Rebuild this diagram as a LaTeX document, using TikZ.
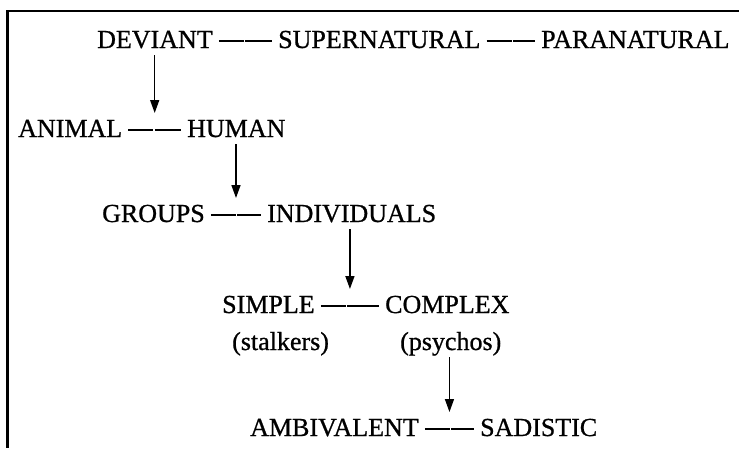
\documentclass[tikz,border=0pt]{standalone}
\usepackage{fontspec}
\setmainfont[FakeBold=0.8]{Liberation Serif}
\usetikzlibrary{arrows.meta}
\tikzset{
  word/.style={anchor=base west, inner sep=0pt, font=\fontsize{26}{30}\selectfont},
  link/.style={line width=1.6pt, shorten <=6pt, shorten >=6pt, dash pattern=on 25pt off 1.5pt on 80pt off 0pt},
  arr/.style={line width=1.5pt, -{Triangle[length=13pt,width=9pt]}, shorten <=7pt, shorten >=17pt},
  frame/.style={line width=2.6pt}
}
\begin{document}
\begin{tikzpicture}[x=1pt,y=-1pt]
  \useasboundingbox (0,0) rectangle (739,448);
  \draw[frame] (739,11) -- (7.5,11) -- (7.5,448);
  % first row
  \node[word] (deviant) at (97,48) {DEVIANT};
  \node[word] (super) at (278,48) {SUPERNATURAL};
  \node[word] (para) at (541,48) {PARANATURAL};
  \draw[link] ([yshift=7pt]deviant.base east) -- ([yshift=7pt]super.base west);
  \draw[link] ([yshift=7pt]super.base east) -- ([yshift=7pt]para.base west);
  % animal / human
  \node[word] (animal) at (18,137) {ANIMAL};
  \node[word] (human) at (187,137) {HUMAN};
  \draw[link] ([yshift=7pt]animal.base east) -- coordinate[midway] (ah) ([yshift=7pt]human.base west);
  % groups / individuals
  \node[word] (groups) at (102,222) {GROUPS};
  \node[word] (indiv) at (267,222) {INDIVIDUALS};
  \draw[link] ([yshift=7pt]groups.base east) -- coordinate[midway] (gi) ([yshift=7pt]indiv.base west);
  % simple / complex
  \node[word] (simple) at (222,313) {SIMPLE};
  \node[word] (complex) at (385,313) {COMPLEX};
  \node[word] (stalkers) at (232,350) {(stalkers)};
  \node[word] (psychos) at (400,350) {(psychos)};
  \draw[link] ([yshift=7pt]simple.base east) -- coordinate[midway] (sc) ([yshift=7pt]complex.base west);
  % ambivalent / sadistic
  \node[word] (ambi) at (250,436) {AMBIVALENT};
  \node[word] (sadistic) at (480,436) {SADISTIC};
  \draw[link] ([yshift=7pt]ambi.base east) -- coordinate[midway] (ams) ([yshift=7pt]sadistic.base west);
  % arrows
  \draw[arr] (deviant.base -| ah) -- (ah);
  \draw[arr] (human.base -| gi) -- (gi);
  \draw[arr] (indiv.base -| sc) -- (sc);
  \draw[arr] (psychos.base -| ams) -- (ams);
\end{tikzpicture}
\end{document}
